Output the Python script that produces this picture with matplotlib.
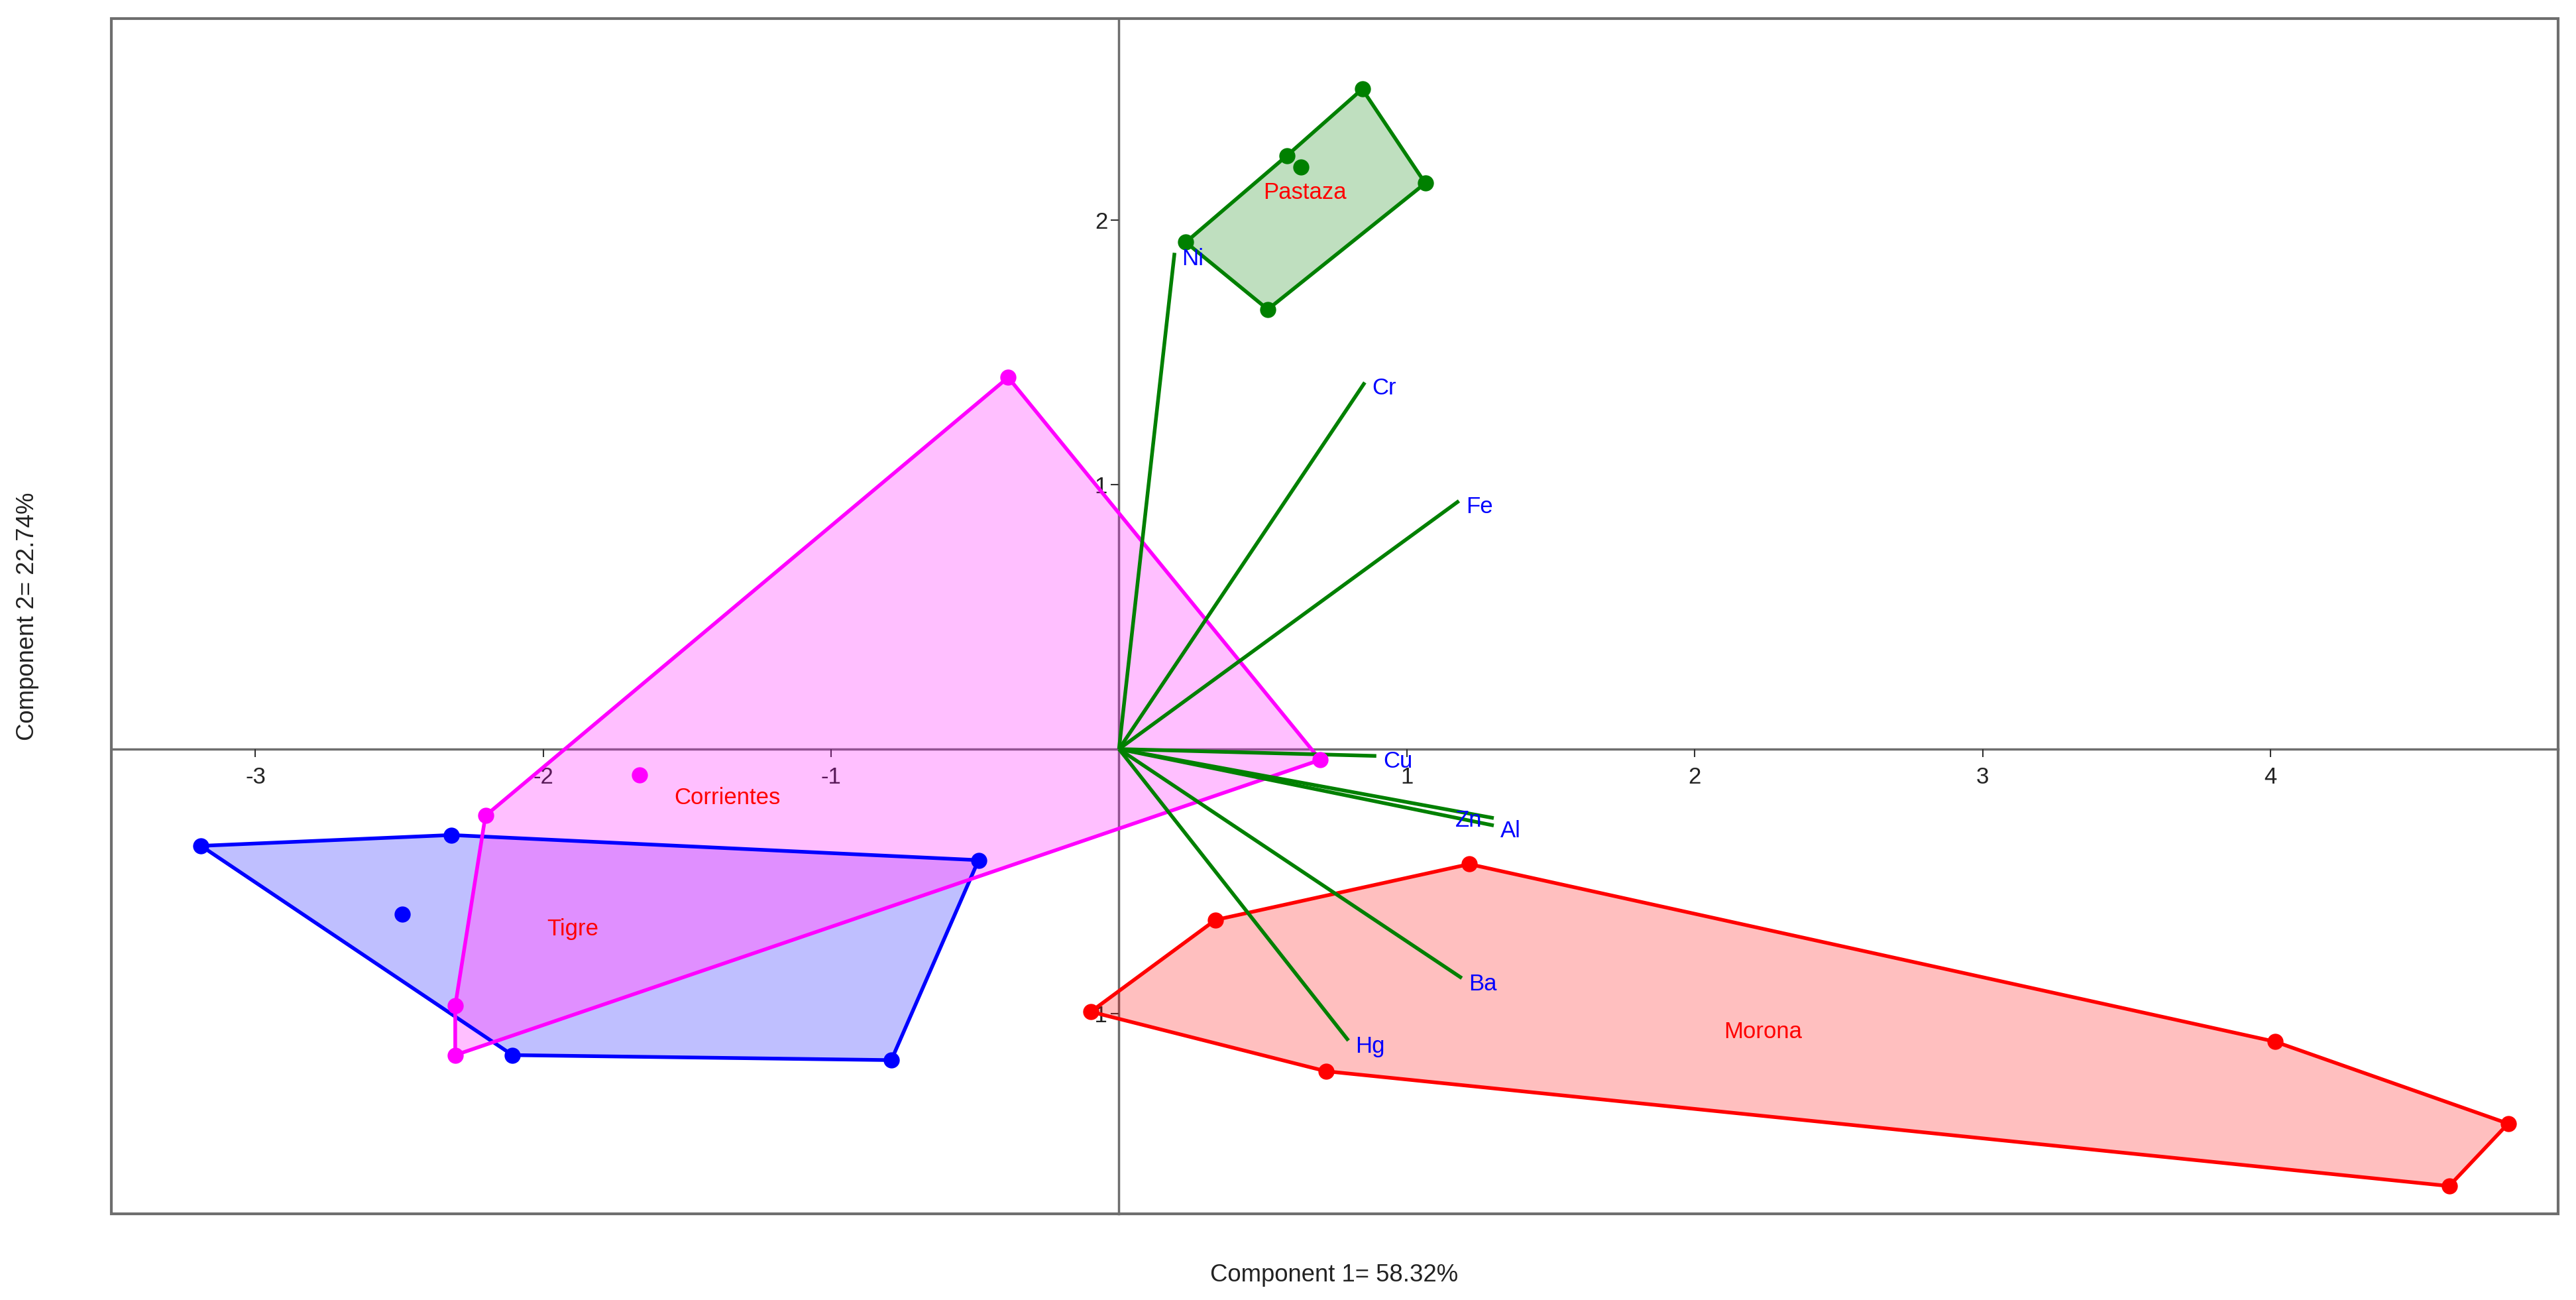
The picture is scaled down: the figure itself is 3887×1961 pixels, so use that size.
import matplotlib
matplotlib.use("Agg")
import matplotlib.pyplot as plt
from matplotlib.patches import Polygon, Rectangle

plt.rcParams['font.family'] = ['Liberation Sans', 'DejaVu Sans']

# group scores (component 1, component 2); hull vertices in drawing order
tigre_hull = [(-3.189, -0.366), (-2.319, -0.325), (-0.488, -0.420), (-0.791, -1.176), (-2.107, -1.157)]
tigre_inner = [(-2.490, -0.623)]
corrientes_hull = [(-0.385, 1.405), (0.699, -0.041), (-2.306, -1.157), (-2.306, -0.970), (-2.201, -0.252)]
corrientes_inner = [(-1.666, -0.097)]
pastaza_hull = [(0.845, 2.495), (1.064, 2.139), (0.517, 1.662), (0.232, 1.916), (0.583, 2.243)]
pastaza_inner = [(0.632, 2.200)]
morona_hull = [(1.217, -0.435), (4.016, -1.106), (4.826, -1.416), (4.621, -1.652),
               (0.719, -1.218), (-0.098, -0.993), (0.335, -0.646)]
morona_inner = []

group_names = ['Tigre', 'Corrientes', 'Pastaza', 'Morona']
group_colors = ['#0000ff', '#ff00ff', '#008000', '#ff0000']
group_label_pos = [(-1.897, -0.68), (-1.36, -0.185), (0.645, 2.104), (2.236, -1.068)]

# loadings
variables = ['Ni', 'Cr', 'Fe', 'Cu', 'Zn', 'Al', 'Ba', 'Hg']
load_x = [0.193, 0.854, 1.181, 0.894, 1.302, 1.302, 1.191, 0.797]
load_y = [1.876, 1.386, 0.938, -0.026, -0.261, -0.289, -0.866, -1.102]

x_ticks = [-3, -2, -1, 1, 2, 3, 4]
y_ticks = [-1, 1, 2]

fig = plt.figure(figsize=(3887 / 250, 1961 / 250), dpi=250)
ax = fig.add_axes([0.0433, 0.0663, 0.9498, 0.9193])
ax.set_xlim(-3.5, 5.0)
ax.set_ylim(-1.757, 2.761)

axis_gray = '#6e6e6e'
for side in ['top', 'right']:
    ax.spines[side].set_visible(False)
ax.spines['left'].set_position(('data', 0))
ax.spines['bottom'].set_position(('data', 0))
for side in ['left', 'bottom']:
    ax.spines[side].set_color(axis_gray)
    ax.spines[side].set_linewidth(1.0)
    ax.spines[side].set_zorder(1)
ax.add_patch(Rectangle((0, 0), 1, 1, transform=ax.transAxes, fill=False,
                       edgecolor=axis_gray, linewidth=1.2, clip_on=False, zorder=6))

ax.set_xticks(x_ticks)
ax.set_yticks(y_ticks)
ax.set_xticklabels([str(t) for t in x_ticks])
ax.set_yticklabels([str(t) for t in y_ticks])
ax.tick_params(axis='both', direction='out', length=3.5, width=0.6, color='#333333',
               labelsize=10, labelcolor='#222222')
ax.tick_params(axis='x', pad=4)
ax.tick_params(axis='y', pad=1.5)

hulls = [tigre_hull, corrientes_hull, pastaza_hull, morona_hull]
inners = [tigre_inner, corrientes_inner, pastaza_inner, morona_inner]
fills = {}
for name, hull, inner, col, lpos in zip(group_names, hulls, inners, group_colors, group_label_pos):
    fills[name] = ax.add_patch(Polygon(hull, closed=True, facecolor=col, alpha=0.25,
                                       edgecolor='none', zorder=2))
    ax.add_patch(Polygon(hull, closed=True, fill=False, edgecolor=col, linewidth=1.6, zorder=3))
    pts = hull + inner
    ax.plot([p[0] for p in pts], [p[1] for p in pts], 'o', color=col, markersize=6, zorder=4)
    ax.text(lpos[0], lpos[1], name, color='#ff0000', fontsize=10, ha='center', va='center', zorder=5)

# where Corrientes lies over Tigre the reference shows a pinker purple
overlap = ax.add_patch(Polygon(corrientes_hull, closed=True, facecolor='#e08fff',
                               edgecolor='none', zorder=2.5))
overlap.set_clip_path(fills['Tigre'])

for var, lx, ly in zip(variables, load_x, load_y):
    ax.plot([0, lx], [0, ly], color='#008000', linewidth=1.6, zorder=3.5, solid_capstyle='butt')
    if var == 'Zn':
        ax.annotate(var, (lx, ly), xytext=(-5, -1), textcoords='offset points',
                    ha='right', va='center', color='#0000ff', fontsize=10, zorder=5)
    else:
        ax.annotate(var, (lx, ly), xytext=(3, -2.5), textcoords='offset points',
                    ha='left', va='center', color='#0000ff', fontsize=10, zorder=5)

fig.text(0.5179, 0.0189, 'Component 1= 58.32%', ha='center', va='center', fontsize=10.5, color='#222222')
fig.text(0.0108, 0.5257, 'Component 2= 22.74%', ha='center', va='center', rotation=90,
         fontsize=10.5, color='#222222')

fig.savefig('out.png', dpi=250)
